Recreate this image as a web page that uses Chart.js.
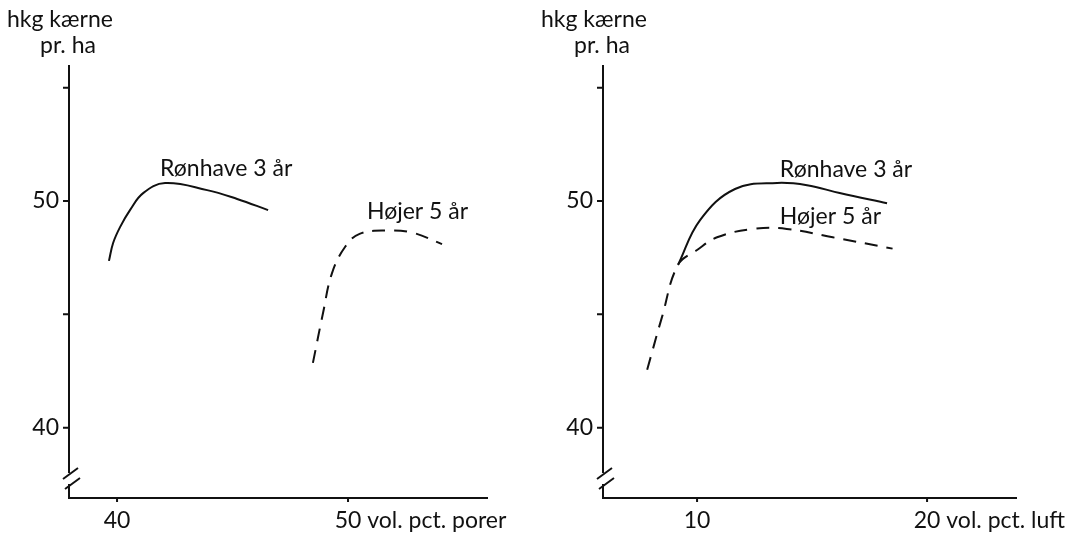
<!DOCTYPE html>
<html lang="da">
<head>
    <meta charset="UTF-8">
    <title>hkg kærne pr. ha</title>
    <script src="https://cdn.jsdelivr.net/npm/chart.js"></script>
    <style>
        body { margin: 0; background: #fff; }
        .wrap { position: relative; width: 1085px; height: 534px; }
        canvas { position: absolute; top: 0; }
        #leftChart { left: 0; }
        #rightChart { left: 540px; }
    </style>
</head>
<body>
<div class="wrap">
    <canvas id="leftChart" width="540" height="534"></canvas>
    <canvas id="rightChart" width="545" height="534"></canvas>
</div>
<script>
// --- data ---
const yTicks = [40, 45, 50, 55];
const yTickLabels = ['40', '', '50', ''];

// left panel: x = vol. pct. porer
const leftXTicks = [40, 50];
const leftXTickLabels = ['40', '50 vol. pct. porer'];
const leftRonhaveX = [39.65, 39.83, 40.13, 40.56, 41.13, 42.08, 43.9, 45.2, 46.54];
const leftRonhaveY = [47.36, 48.15, 48.85, 49.6, 50.35, 50.79, 50.48, 50.09, 49.6];
const leftHojerX = [48.48, 48.92, 49.3, 49.87, 50.5, 51.7, 52.8, 54.07];
const leftHojerY = [42.86, 45.07, 46.8, 47.97, 48.55, 48.7, 48.6, 48.1];

// right panel: x = vol. pct. luft
const rightXTicks = [10, 20];
const rightXTickLabels = ['10', '20 vol. pct. luft'];
const rightRonhaveX = [9.17, 10.13, 11.65, 13.48, 14.78, 16.2, 18.26];
const rightRonhaveY = [47.18, 49.16, 50.53, 50.8, 50.7, 50.35, 49.9];
const rightHojerX = [7.83, 8.48, 9.17, 10.0, 10.87, 12.43, 13.9, 15.9, 18.5];
const rightHojerY = [42.56, 44.9, 47.18, 47.84, 48.4, 48.77, 48.77, 48.4, 47.9];

const seriesNames = ['Rønhave 3 år', 'Højer 5 år'];
const axisTitle = ['hkg kærne', 'pr. ha'];

const FONT = '23px Lato, "DejaVu Sans", sans-serif';
const INK = '#111';

function pts(xs, ys) { return xs.map((x, i) => ({ x: x, y: ys[i] })); }

// axes, broken y axis, ticks and texts drawn on the library's scales
function axesPlugin(xTicks, xTickLabels, notes) {
    return {
        id: 'axes',
        afterDraw(chart) {
            const ctx = chart.ctx, xs = chart.scales.x, ys = chart.scales.y;
            const a = chart.chartArea, L = a.left, B = a.bottom;
            ctx.save();
            ctx.strokeStyle = INK; ctx.fillStyle = INK; ctx.lineWidth = 2;
            ctx.beginPath();
            // y axis with break
            ctx.moveTo(L, a.top); ctx.lineTo(L, B - 25);
            ctx.moveTo(L, B - 14); ctx.lineTo(L, B);
            // x axis
            ctx.lineTo(a.right, B);
            // break marks
            ctx.moveTo(L - 6, B - 19); ctx.lineTo(L + 9, B - 30);
            ctx.moveTo(L - 4, B - 9); ctx.lineTo(L + 11, B - 20);
            // y ticks
            yTicks.forEach(v => { const y = ys.getPixelForValue(v); ctx.moveTo(L - 6, y); ctx.lineTo(L, y); });
            // x ticks
            xTicks.forEach(v => { const x = xs.getPixelForValue(v); ctx.moveTo(x, B); ctx.lineTo(x, B + 4); });
            ctx.stroke();

            ctx.font = FONT;
            // y tick labels
            ctx.textAlign = 'right'; ctx.textBaseline = 'middle';
            yTicks.forEach((v, i) => { if (yTickLabels[i]) ctx.fillText(yTickLabels[i], L - 10, ys.getPixelForValue(v)); });
            // x tick labels: the number is centred on its tick, the unit follows
            ctx.textAlign = 'left'; ctx.textBaseline = 'top';
            xTicks.forEach((v, i) => {
                const lab = xTickLabels[i];
                const num = lab.split(' ')[0];
                const x = xs.getPixelForValue(v) - ctx.measureText(num).width / 2;
                ctx.fillText(lab, x, B + 11);
            });
            // axis title
            ctx.textBaseline = 'alphabetic';
            ctx.fillText(axisTitle[0], L - 62, 27);
            ctx.fillText(axisTitle[1], L - 29, 53);
            // curve labels
            ctx.textBaseline = 'middle';
            notes.forEach(n => ctx.fillText(n.text, xs.getPixelForValue(n.x), ys.getPixelForValue(n.y)));
            ctx.restore();
        }
    };
}

function makeChart(id, xMin, xMax, ron, hoj, xTicks, xTickLabels, notes, pad) {
    return new Chart(document.getElementById(id), {
        type: 'line',
        data: {
            datasets: [
                { label: seriesNames[0], data: ron, borderColor: INK, borderWidth: 2,
                  pointRadius: 0, tension: 0.4, fill: false },
                { label: seriesNames[1], data: hoj, borderColor: INK, borderWidth: 2,
                  borderDash: [13, 9], pointRadius: 0, tension: 0.4, fill: false }
            ]
        },
        options: {
            responsive: false,
            animation: false,
            layout: { padding: pad },
            scales: {
                x: { type: 'linear', min: xMin, max: xMax, display: false },
                y: { type: 'linear', min: 36.9, max: 56.0, display: false }
            },
            plugins: { legend: { display: false }, tooltip: { enabled: false } }
        },
        plugins: [axesPlugin(xTicks, xTickLabels, notes)]
    });
}

makeChart('leftChart', 37.92, 56.06,
    pts(leftRonhaveX, leftRonhaveY), pts(leftHojerX, leftHojerY),
    leftXTicks, leftXTickLabels,
    [{ text: seriesNames[0], x: 41.86, y: 51.41 }, { text: seriesNames[1], x: 50.82, y: 49.52 }],
    { left: 69, right: 52, top: 65, bottom: 36 });

makeChart('rightChart', 5.91, 23.91,
    pts(rightRonhaveX, rightRonhaveY), pts(rightHojerX, rightHojerY),
    rightXTicks, rightXTickLabels,
    [{ text: seriesNames[0], x: 13.6, y: 51.37 }, { text: seriesNames[1], x: 13.6, y: 49.3 }],
    { left: 63, right: 68, top: 65, bottom: 36 });
</script>
</body>
</html>
